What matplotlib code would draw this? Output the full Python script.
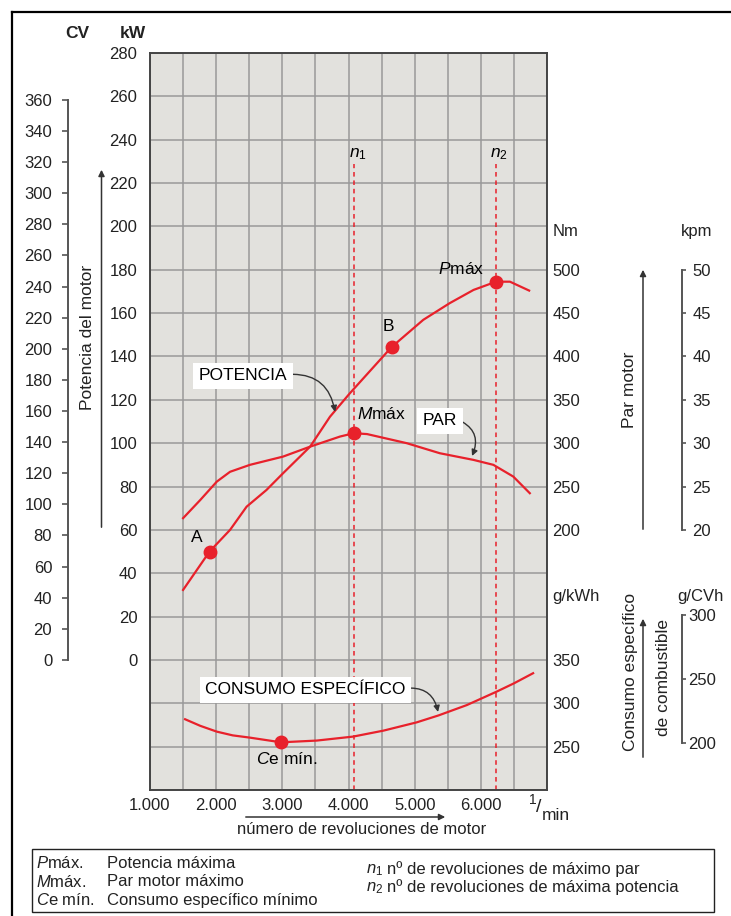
import numpy as np
import matplotlib
matplotlib.use('Agg')
import matplotlib.pyplot as plt
from matplotlib.patches import Rectangle, FancyArrowPatch
from matplotlib.lines import Line2D

plt.rcParams['font.family'] = ['Liberation Sans', 'DejaVu Sans']
plt.rcParams['mathtext.fontset'] = 'custom'
plt.rcParams['mathtext.rm'] = 'Liberation Sans'
plt.rcParams['mathtext.it'] = 'Liberation Sans:italic'
plt.rcParams['font.size'] = 12

W, H = 731, 916

# curva de potencia (kW)
rpm_pot = [1500, 1900, 2210, 2460, 2760, 3010, 3420, 3720, 4020, 4650, 5130, 5530, 5890, 6230, 6440, 6730]
kw_pot = [32.3, 50.0, 60.0, 70.7, 78.4, 86.1, 98.4, 112.2, 123.0, 144.3, 156.9, 164.6, 170.7, 174.5, 174.5, 170.4]

# par motor (Nm)
rpm_par = [1500, 1760, 2010, 2210, 2510, 3010, 3420, 3870, 4080, 4280, 4880, 5380, 5890, 6190, 6490, 6740]
nm_par = [213.5, 234.5, 255.7, 267.0, 275.0, 284.5, 296.0, 307.6, 311.5, 310.5, 300.0, 288.4, 280.7, 275.0, 261.5, 242.3]

# consumo especifico (g/kWh)
rpm_ce = [1530, 1760, 2010, 2250, 2510, 2980, 3520, 4070, 4530, 5030, 5360, 5790, 6240, 6500, 6790]
ce_gkwh = [281.6, 274.0, 267.3, 263.0, 260.4, 255.0, 257.0, 261.6, 268.5, 278.0, 286.0, 298.0, 313.5, 323.0, 334.7]

# puntos marcados
rpm_A, kw_A = 1900, 50.0
rpm_B, kw_B = 4650, 144.3
rpm_pmax, kw_pmax = 6230, 174.5
rpm_mmax, nm_mmax = 4080, 311.5
rpm_cemin, ce_min = 2980, 255.0
n1, n2 = 4080, 6230

xticks = list(range(1000, 7001, 500))
xlabels = ['1.000', '', '2.000', '', '3.000', '', '4.000', '', '5.000', '', '6.000', '', '']


def kw_to_cv(v): return np.asarray(v) * 360 / 258.4
def cv_to_kw(v): return np.asarray(v) * 258.4 / 360
def kw_to_nm(v): return np.asarray(v) * 2.5 + 50
def nm_to_kw(v): return (np.asarray(v) - 50) / 2.5
def kw_to_kpm(v): return kw_to_nm(v) / 10
def kpm_to_kw(v): return nm_to_kw(np.asarray(v) * 10)
def kw_to_gkwh(v): return np.asarray(v) * 2.5 + 350
def gkwh_to_kw(v): return (np.asarray(v) - 350) / 2.5
def kw_to_gcvh(v): return (np.asarray(v) + 38.3) * 100 / 59.1 + 200
def gcvh_to_kw(v): return (np.asarray(v) - 200) * 59.1 / 100 - 38.3


def fx(px): return px / W
def fy(py): return 1 - py / H


red = '#e8212b'
dark = '#222222'

fig = plt.figure(figsize=(W / 100, H / 100), dpi=100)
ax = fig.add_axes([fx(150), fy(790), 397 / W, 737 / H])
ax.set_xlim(1000, 7000)
ax.set_ylim(-60, 280)
ax.set_facecolor('#e2e1dd')
ax.set_xticks(xticks)
ax.set_xticklabels(xlabels)
yt = list(range(-60, 281, 20))
ax.set_yticks(yt)
ax.set_yticklabels([str(v) if v >= 0 else '' for v in yt])
ax.grid(True, color='#999999', lw=1.1)
ax.set_axisbelow(True)
ax.tick_params(length=0, labelsize=12, colors=dark)
ax.tick_params(axis='x', pad=6)
ax.tick_params(axis='y', pad=9)
for s in ax.spines.values():
    s.set_color('#444444')
    s.set_linewidth(1.4)

# curvas
ax.plot(rpm_pot, kw_pot, color=red, lw=1.6)
ax.plot(rpm_par, nm_to_kw(nm_par), color=red, lw=1.6)
ax.plot(rpm_ce, gkwh_to_kw(ce_gkwh), color=red, lw=1.6)
ax.plot([rpm_A, rpm_B, rpm_pmax, rpm_mmax, rpm_cemin],
        [kw_A, kw_B, kw_pmax, nm_to_kw(nm_mmax), gkwh_to_kw(ce_min)],
        'o', color=red, ms=9, zorder=5)
ax.vlines([n1, n2], -60, 229, colors=red, linestyles=(0, (3, 2.5)), lw=1.1)

# etiquetas de puntos
ax.annotate('A', (rpm_A, kw_A), xytext=(-9, 10), textcoords='offset points', ha='center', va='center', fontsize=12.5)
ax.annotate('B', (rpm_B, kw_B), xytext=(-2, 15), textcoords='offset points', ha='center', va='center', fontsize=12.5)
ax.annotate(r'$P$máx', (rpm_pmax, kw_pmax), xytext=(-25, 9), textcoords='offset points', ha='center', va='center', fontsize=12.5)
ax.annotate(r'$M$máx', (rpm_mmax, nm_to_kw(nm_mmax)), xytext=(20, 14), textcoords='offset points', ha='center', va='center', fontsize=12.5)
ax.annotate(r'$C$e mín.', (rpm_cemin, gkwh_to_kw(ce_min)), xytext=(4, -12), textcoords='offset points', ha='center', va='center', fontsize=12.5)
ax.annotate(r'$n_{\mathrm{1}}$', (n1, 229), xytext=(3, 7), textcoords='offset points', ha='center', va='center', fontsize=12.5)
ax.annotate(r'$n_{\mathrm{2}}$', (n2, 229), xytext=(2, 7), textcoords='offset points', ha='center', va='center', fontsize=12.5)

# rotulos con flecha
box = dict(facecolor='white', edgecolor='none', pad=4)
arr = dict(arrowstyle='-|>', color='#333333', lw=1, mutation_scale=9, shrinkA=0, shrinkB=0)
ax.annotate('POTENCIA', xy=(3796, 114.4), xytext=(2406, 131), ha='center', va='center', fontsize=12.5, bbox=box,
            arrowprops=dict(arr, connectionstyle='arc3,rad=-0.45', relpos=(1.0, 0.6)))
ax.annotate('PAR', xy=(5867, 94.1), xytext=(5383, 110.3), ha='center', va='center', fontsize=12.5, bbox=box,
            arrowprops=dict(arr, connectionstyle='arc3,rad=-0.5', relpos=(1.0, 0.6)))
ax.annotate('CONSUMO ESPECÍFICO', xy=(5353, -24), xytext=(3350, -13.8), ha='center', va='center', fontsize=12.5, bbox=box,
            arrowprops=dict(arr, connectionstyle='arc3,rad=-0.45', relpos=(1.0, 0.6)))

# ejes secundarios
ax_cv = ax.secondary_yaxis((67.5 - 150) / 397, functions=(kw_to_cv, cv_to_kw))
ax_cv.set_yticks(range(0, 361, 20))
ax_cv.spines['left'].set_bounds(0, 360)
ax_cv.spines['left'].set_color('#555555')
ax_cv.spines['left'].set_linewidth(1.4)
ax_cv.tick_params(direction='out', length=4, width=1.2, pad=7, labelsize=12, colors='#555555', labelcolor=dark)

ax_nm = ax.secondary_yaxis('right', functions=(kw_to_nm, nm_to_kw))
ax_nm.set_yticks(range(200, 501, 50))
ax_nm.spines['right'].set_visible(False)
ax_nm.tick_params(length=0, pad=4, labelsize=12, colors=dark)

ax_gk = ax.secondary_yaxis('right', functions=(kw_to_gkwh, gkwh_to_kw))
ax_gk.set_yticks([250, 300, 350])
ax_gk.spines['right'].set_visible(False)
ax_gk.tick_params(length=0, pad=4, labelsize=12, colors=dark)

loc_r = (681.5 - 150) / 397
ax_kpm = ax.secondary_yaxis(loc_r, functions=(kw_to_kpm, kpm_to_kw))
ax_kpm.set_yticks(range(20, 51, 5))
ax_kpm.spines['right'].set_bounds(20, 50)
ax_kpm.spines['right'].set_color('#555555')
ax_kpm.spines['right'].set_linewidth(1.4)
ax_kpm.tick_params(direction='out', length=3, width=1.2, pad=5, labelsize=12, colors='#555555', labelcolor=dark)

ax_gc = ax.secondary_yaxis(loc_r, functions=(kw_to_gcvh, gcvh_to_kw))
ax_gc.set_yticks([200, 250, 300])
ax_gc.spines['right'].set_bounds(200, 300)
ax_gc.spines['right'].set_color('#555555')
ax_gc.spines['right'].set_linewidth(1.4)
ax_gc.tick_params(direction='out', length=3, width=1.2, pad=2, labelsize=12, colors='#555555', labelcolor=dark)

# titulos de escalas
fig.text(fx(77), fy(33), 'CV', weight='bold', ha='center', va='center', fontsize=12.5, color=dark)
fig.text(fx(133), fy(33), 'kW', weight='bold', ha='center', va='center', fontsize=12.5, color=dark)
fig.text(fx(553), fy(232), 'Nm', ha='left', va='center', fontsize=12, color=dark)
fig.text(fx(697), fy(232), 'kpm', ha='center', va='center', fontsize=12, color=dark)
fig.text(fx(552), fy(597), 'g/kWh', ha='left', va='center', fontsize=12, color=dark)
fig.text(fx(677), fy(597), 'g/CVh', ha='left', va='center', fontsize=12, color=dark)

# unidad del eje x: 1/min
fig.text(fx(533), fy(800), '1', ha='center', va='center', fontsize=10, color=dark)
fig.text(fx(539), fy(807), '/', ha='center', va='center', fontsize=14, color=dark)
fig.text(fx(556), fy(816), 'min', ha='center', va='center', fontsize=12.5, color=dark)

fig.text(fx(88), fy(337), 'Potencia del motor', rotation=90, ha='center', va='center', fontsize=12.5, color=dark)
fig.text(fx(630), fy(390), 'Par motor', rotation=90, ha='center', va='center', fontsize=12.5, color=dark)
fig.text(fx(630), fy(672), 'Consumo específico', rotation=90, ha='center', va='center', fontsize=12.5, color=dark)
fig.text(fx(663), fy(678), 'de combustible', rotation=90, ha='center', va='center', fontsize=12.5, color=dark)
fig.text(fx(362), fy(830), 'número de revoluciones de motor', ha='center', va='center', fontsize=12, color=dark)


def flecha(p0, p1):
    fig.add_artist(FancyArrowPatch((fx(p0[0]), fy(p0[1])), (fx(p1[0]), fy(p1[1])), transform=fig.transFigure,
                                   arrowstyle='-|>', mutation_scale=9, lw=1.1, color='#333333'))


flecha((101.5, 530), (101.5, 167))
flecha((643, 532), (643, 267))
flecha((643, 760), (643, 616))
flecha((243, 817), (448, 817))

# leyenda
fig.add_artist(Rectangle((fx(31.5), fy(912)), fx(714) - fx(31.5), fy(849) - fy(912), transform=fig.transFigure,
                         facecolor='white', edgecolor='#222222', lw=1))
leg_y = [863, 882, 900]
leg_k = [r'$P$máx.', r'$M$máx.', r'$C$e mín.']
leg_t = ['Potencia máxima', 'Par motor máximo', 'Consumo específico mínimo']
for yy, k, t in zip(leg_y, leg_k, leg_t):
    fig.text(fx(36), fy(yy), k, ha='left', va='center', fontsize=12, color=dark)
    fig.text(fx(107), fy(yy), t, ha='left', va='center', fontsize=12, color=dark)
fig.text(fx(366), fy(870), r'$n_{\mathrm{1}}$', ha='left', va='center', fontsize=12, color=dark)
fig.text(fx(387), fy(869), 'nº de revoluciones de máximo par', ha='left', va='center', fontsize=12, color=dark)
fig.text(fx(366), fy(888), r'$n_{\mathrm{2}}$', ha='left', va='center', fontsize=12, color=dark)
fig.text(fx(387), fy(887), 'nº de revoluciones de máxima potencia', ha='left', va='center', fontsize=12, color=dark)

# marco exterior
fig.add_artist(Line2D([fx(12), fx(12)], [fy(12), 0], transform=fig.transFigure, color='black', lw=1.6))
fig.add_artist(Line2D([fx(12), 1], [fy(12), fy(12)], transform=fig.transFigure, color='black', lw=1.6))

fig.savefig('out.png', dpi=100)
